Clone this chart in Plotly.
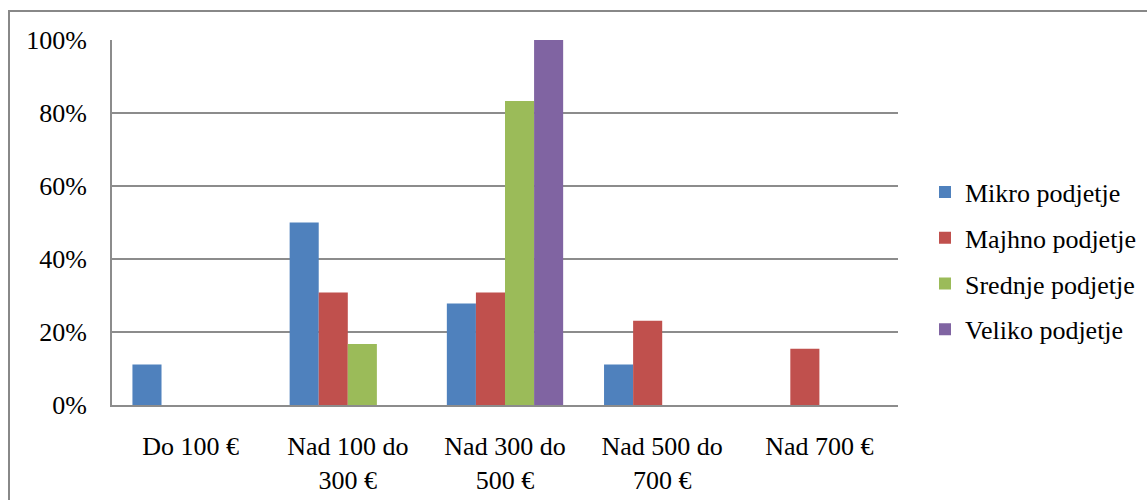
import plotly.graph_objects as go

# Delež podjetij po razredih zneska (v %)
categories = ["Do 100 €", "Nad 100 do<br>300 €", "Nad 300 do<br>500 €", "Nad 500 do<br>700 €", "Nad 700 €"]
mikro = [11.1, 50.0, 27.8, 11.1, 0.0]
majhno = [0.0, 30.8, 30.8, 23.1, 15.4]
srednje = [0.0, 16.7, 83.3, 0.0, 0.0]
veliko = [0.0, 0.0, 100.0, 0.0, 0.0]

series = [
    ("Mikro podjetje", mikro, "#4F81BD"),
    ("Majhno podjetje", majhno, "#C0504D"),
    ("Srednje podjetje", srednje, "#9BBB59"),
    ("Veliko podjetje", veliko, "#8064A2"),
]

FONT = "'Liberation Serif', 'Times New Roman', serif"
GRID = "#8c8c8c"
FS = 26

fig = go.Figure()
for i, (name, vals, color) in enumerate(series):
    fig.add_trace(go.Bar(
        x=categories, y=vals, name=name,
        marker=dict(color=color, line=dict(width=0)),
        legendgroup=f"g{i}",
    ))

# plot-area geometry (pixels)
W, H = 1147, 500
L, R, T, B = 112, 898, 40, 405

fig.update_layout(
    width=W, height=H,
    margin=dict(l=L, r=W - R, t=T, b=H - B, autoexpand=False),
    paper_bgcolor="white", plot_bgcolor="white",
    barmode="group", bargap=0.26, bargroupgap=0,
    font=dict(family=FONT, size=FS, color="black"),
    showlegend=True,
    legend=dict(
        x=(925 - L) / (R - L), xanchor="left",
        y=(B - 261) / (B - T), yanchor="middle",
        font=dict(family=FONT, size=FS, color="black"),
        traceorder="grouped", tracegroupgap=9,
        itemwidth=30, bgcolor="rgba(0,0,0,0)",
    ),
    xaxis=dict(
        showline=True, linecolor=GRID, linewidth=2,
        showgrid=False, ticks="", tickfont=dict(family=FONT, size=FS),
        ticklabelstandoff=17,
    ),
    yaxis=dict(
        range=[0, 100], tickvals=[0, 20, 40, 60, 80, 100],
        ticktext=["0%", "20%", "40%", "60%", "80%", "100%"],
        showgrid=True, gridcolor=GRID, gridwidth=2,
        showline=True, linecolor=GRID, linewidth=2,
        zeroline=False, ticks="", tickfont=dict(family=FONT, size=FS),
        ticklabelstandoff=18,
    ),
)

# outer chart frame
fig.add_shape(
    type="rect", xref="paper", yref="paper",
    x0=(9 - L) / (R - L), x1=(1160 - L) / (R - L),
    y0=(B - 520) / (B - T), y1=(B - 11) / (B - T),
    line=dict(color="#888888", width=2), fillcolor="rgba(0,0,0,0)",
    layer="below",
)

fig.write_html("out.html")
